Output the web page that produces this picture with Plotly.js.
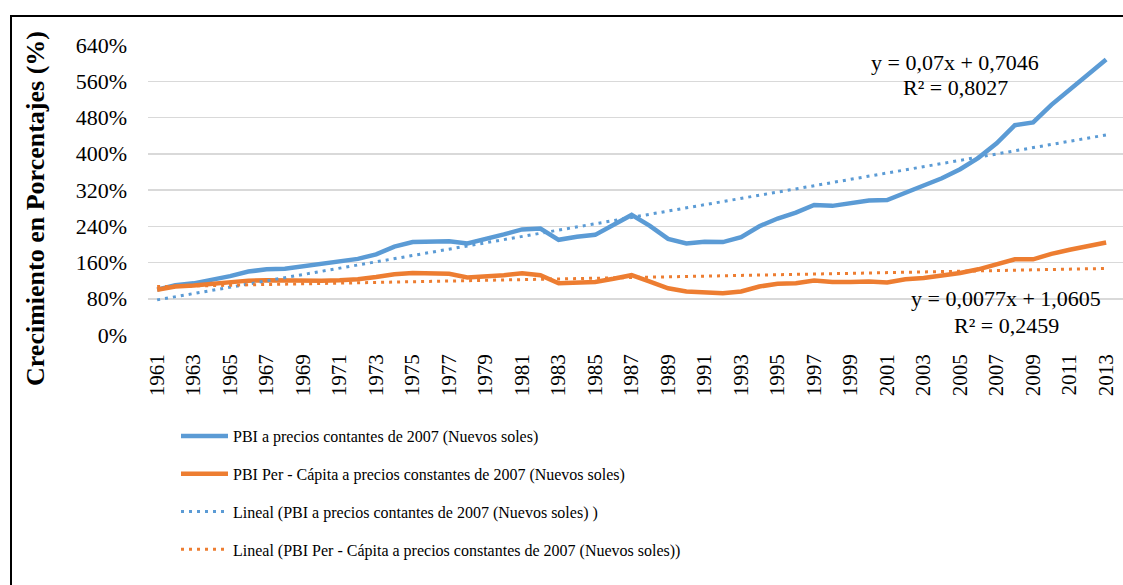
<!DOCTYPE html>
<html><head><meta charset="utf-8">
<script src="https://cdn.plot.ly/plotly-3.0.1.min.js"></script>
<style>
html,body{margin:0;padding:0;background:#fff;overflow:hidden}
#chart{width:1123px;height:585px}
#frame{position:absolute;left:10px;top:15px;width:1300px;height:800px;border-left:2px solid #000;border-top:2px solid #000;pointer-events:none}
</style>
</head><body>
<div id="chart"></div><div id="frame"></div>
<script>
const years = [1961,1962,1963,1964,1965,1966,1967,1968,1969,1970,1971,1972,1973,1974,1975,1976,1977,1978,1979,1980,1981,1982,1983,1984,1985,1986,1987,1988,1989,1990,1991,1992,1993,1994,1995,1996,1997,1998,1999,2000,2001,2002,2003,2004,2005,2006,2007,2008,2009,2010,2011,2012,2013];
const pbi = [100,110,114,121,130,140,145,146,151,156,162,168,178,195,205,207,207,202,211,222,233,235,210,217,221,243,265,241,212,202,206,205,216,240,257,270,287,285,291,297,298,315,330,346,366,391,423,463,469,508,541,574,608];
const pbiPerCapita = [100,107,109,113,115,120,121,120,120,120,121,123,128,134,137,137,135,127,129,132,136,132,114,116,117,124,132,118,103,96,95,92,96,107,113,114,120,117,117,118,116,123,126,131,137,145,156,167,167,179,188,195,204];
const trendYears = [1961, 2013];
const trendPbi = [77.5, 441.5];
const trendPerCapita = [106.8, 146.9];
const tickYears = [1961,1963,1965,1967,1969,1971,1973,1975,1977,1979,1981,1983,1985,1987,1989,1991,1993,1995,1997,1999,2001,2003,2005,2007,2009,2011,2013];
const yTicks = [0,80,160,240,320,400,480,560,640];
const names = [
  "PBI a precios contantes de 2007 (Nuevos soles)",
  "PBI Per - Cápita a precios constantes de 2007 (Nuevos soles)",
  "Lineal (PBI a precios contantes de 2007 (Nuevos soles) )",
  "Lineal (PBI Per - Cápita a precios constantes de 2007 (Nuevos soles))"
];
const eq1 = ["y = 0,07x + 0,7046", "R² = 0,8027"];
const eq2 = ["y = 0,0077x + 1,0605", "R² = 0,2459"];
const yTitle = "Crecimiento en Porcentajes (%)";

const BLUE = "#5B9BD5", ORANGE = "#ED7D31";
const serif = "Liberation Serif, Times New Roman, serif";

const traces = [
  {x: years, y: pbi, name: names[0], mode: "lines", line: {color: BLUE, width: 4.5}, legendgroup: "a"},
  {x: years, y: pbiPerCapita, name: names[1], mode: "lines", line: {color: ORANGE, width: 4.5}, legendgroup: "b"},
  {x: trendYears, y: trendPbi, name: names[2], mode: "lines", line: {color: BLUE, width: 3, dash: "3px,5px"}, legendgroup: "c"},
  {x: trendYears, y: trendPerCapita, name: names[3], mode: "lines", line: {color: ORANGE, width: 3, dash: "3px,5px"}, legendgroup: "d"}
];

const L = 148, R = 1123, T = 45, B = 335;
const W = R - L, H = B - T;
const px = x => (x - L) / W;
const py = y => (B - y) / H;

const annFont = {family: serif, size: 22, color: "#000"};
const layout = {
  width: 1123, height: 585,
  margin: {l: L, r: 1123 - R, t: T, b: 585 - B, pad: 0},
  paper_bgcolor: "#fff", plot_bgcolor: "#fff",
  showlegend: true,
  legend: {x: px(176), y: py(419), xanchor: "left", yanchor: "top", font: {family: serif, size: 16, color: "#000"},
           itemwidth: 47, tracegroupgap: 14, traceorder: "grouped", bgcolor: "rgba(0,0,0,0)"},
  xaxis: {type: "linear", range: [1960.5, 1960.5 + W / 18.25], tickvals: tickYears, ticktext: tickYears.map(String),
          tickangle: -90, tickfont: {family: serif, size: 21, color: "#000"}, showgrid: false, zeroline: false,
          showline: false, ticks: "", ticklabelstandoff: 14, ticklabeloverflow: "allow", automargin: false, fixedrange: true},
  yaxis: {range: [0, 640], tickvals: yTicks, ticktext: yTicks.map(v => v + "%"), showgrid: true, gridcolor: "#d9d9d9", gridwidth: 1.5,
          zeroline: false, showline: false, ticks: "", tickfont: {family: serif, size: 22, color: "#000"}, ticklabelstandoff: 20,
          automargin: false, fixedrange: true},
  annotations: [
    {xref: "paper", yref: "paper", x: px(35), y: py(209), text: "<b>" + yTitle + "</b>", textangle: -90, showarrow: false,
     xanchor: "center", yanchor: "middle", font: {family: serif, size: 26, color: "#000"}},
    {xref: "paper", yref: "paper", x: px(955), y: py(62), text: eq1[0], showarrow: false, xanchor: "center", yanchor: "middle", font: annFont},
    {xref: "paper", yref: "paper", x: px(955), y: py(88), text: eq1[1], showarrow: false, xanchor: "center", yanchor: "middle", font: annFont},
    {xref: "paper", yref: "paper", x: px(1006), y: py(298), text: eq2[0], showarrow: false, xanchor: "center", yanchor: "middle", font: annFont},
    {xref: "paper", yref: "paper", x: px(1006), y: py(325), text: eq2[1], showarrow: false, xanchor: "center", yanchor: "middle", font: annFont}
  ]
};

Plotly.newPlot("chart", traces, layout, {displayModeBar: false, staticPlot: true});
</script>
</body></html>
